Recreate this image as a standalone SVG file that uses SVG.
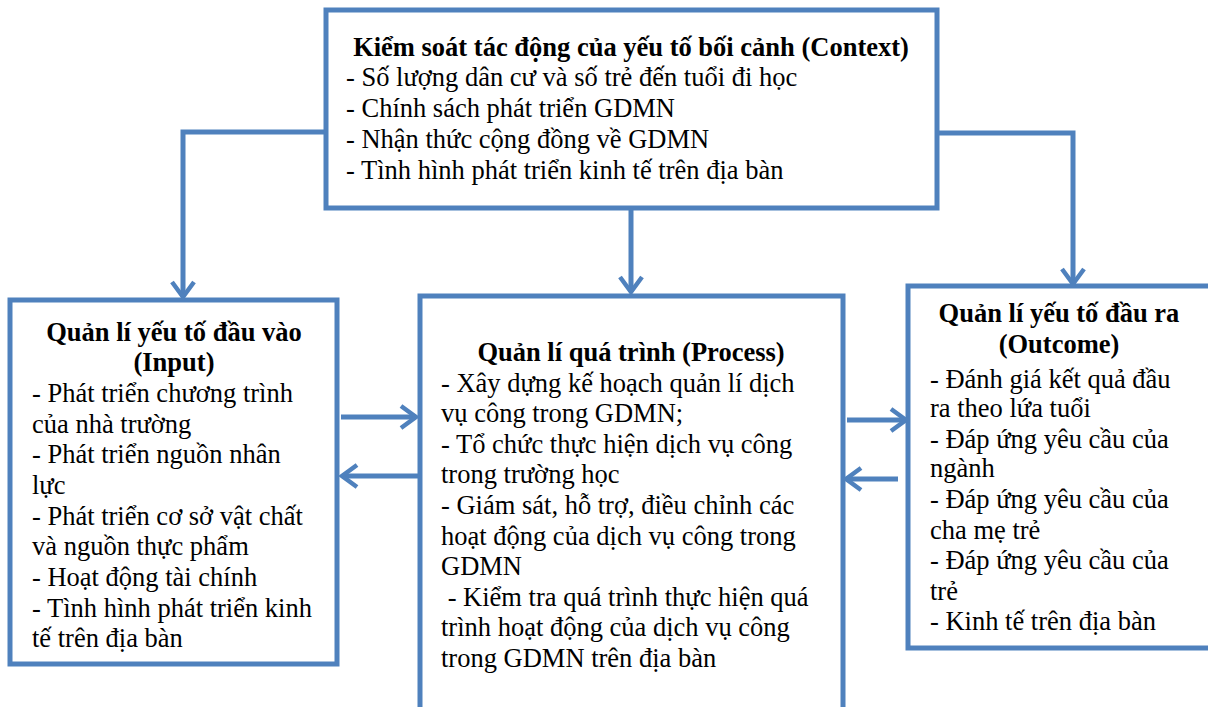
<svg xmlns="http://www.w3.org/2000/svg" width="1208" height="707" viewBox="0 0 1208 707">
<style>
.box{fill:#fff;stroke:#4F81BD;stroke-width:5}
.con{fill:none;stroke:#4F81BD;stroke-width:5}
text{font-family:"Liberation Serif","Times New Roman",serif;font-size:26.5px;fill:#000}
.t{font-weight:bold;text-anchor:middle}
</style>
<defs>
<marker id="arr" markerUnits="userSpaceOnUse" viewBox="0 0 20 24" refX="18" refY="12" markerWidth="20" markerHeight="24" orient="auto" overflow="visible">
<path d="M3,1 L18,12 L3,23" fill="none" stroke="#4F81BD" stroke-width="4.5"/>
</marker>
</defs>
<rect width="1208" height="707" fill="#fff"/>
<g id="connectors">
<polyline class="con" points="326,132 183,132 183,297" marker-end="url(#arr)"/>
<line class="con" x1="631" y1="208" x2="631" y2="292" marker-end="url(#arr)"/>
<polyline class="con" points="937,133 1073,133 1073,284" marker-end="url(#arr)"/>
<line class="con" x1="341" y1="417" x2="416" y2="417" marker-end="url(#arr)"/>
<line class="con" x1="418" y1="476" x2="342" y2="476" marker-end="url(#arr)"/>
<line class="con" x1="847" y1="420" x2="906" y2="420" marker-end="url(#arr)"/>
<line class="con" x1="898" y1="479" x2="846" y2="479" marker-end="url(#arr)"/>
</g>
<g id="context">
<rect class="box" x="326" y="10" width="611" height="198"/>
<text class="t" x="631" y="56">Kiểm soát tác động của yếu tố bối cảnh (Context)</text>
<text x="346" y="86">- Số lượng dân cư và số trẻ đến tuổi đi học</text>
<text x="346" y="117">- Chính sách phát triển GDMN</text>
<text x="346" y="148">- Nhận thức cộng đồng về GDMN</text>
<text x="346" y="179">- Tình hình phát triển kinh tế trên địa bàn</text>
</g>
<g id="input">
<rect class="box" x="10" y="300" width="327" height="364"/>
<text class="t" x="174" y="341">Quản lí yếu tố đầu vào</text>
<text class="t" x="174" y="371">(Input)</text>
<text x="32" y="402">- Phát triển chương trình</text>
<text x="32" y="433">của nhà trường</text>
<text x="32" y="463">- Phát triển nguồn nhân</text>
<text x="32" y="494">lực</text>
<text x="32" y="525">- Phát triển cơ sở vật chất</text>
<text x="32" y="555">và nguồn thực phẩm</text>
<text x="32" y="586">- Hoạt động tài chính</text>
<text x="32" y="617">- Tình hình phát triển kinh</text>
<text x="32" y="647">tế trên địa bàn</text>
</g>
<g id="process">
<rect class="box" x="420" y="296" width="423" height="430"/>
<text class="t" x="631" y="361">Quản lí quá trình (Process)</text>
<text x="441" y="392">- Xây dựng kế hoạch quản lí dịch</text>
<text x="441" y="422">vụ công trong GDMN;</text>
<text x="441" y="453">- Tổ chức thực hiện dịch vụ công</text>
<text x="441" y="483">trong trường học</text>
<text x="441" y="514">- Giám sát, hỗ trợ, điều chỉnh các</text>
<text x="441" y="545">hoạt động của dịch vụ công trong</text>
<text x="441" y="575">GDMN</text>
<text x="441" y="606" xml:space="preserve"> - Kiểm tra quá trình thực hiện quá</text>
<text x="441" y="636">trình hoạt động của dịch vụ công</text>
<text x="441" y="667">trong GDMN trên địa bàn</text>
</g>
<g id="outcome">
<rect class="box" x="908" y="286" width="304" height="362"/>
<text class="t" x="1059" y="322">Quản lí yếu tố đầu ra</text>
<text class="t" x="1059" y="353">(Outcome)</text>
<text x="930" y="388">- Đánh giá kết quả đầu</text>
<text x="930" y="417">ra theo lứa tuổi</text>
<text x="930" y="448">- Đáp ứng yêu cầu của</text>
<text x="930" y="477">ngành</text>
<text x="930" y="508">- Đáp ứng yêu cầu của</text>
<text x="930" y="539">cha mẹ trẻ</text>
<text x="930" y="569">- Đáp ứng yêu cầu của</text>
<text x="930" y="600">trẻ</text>
<text x="930" y="630">- Kinh tế trên địa bàn</text>
</g>
</svg>
